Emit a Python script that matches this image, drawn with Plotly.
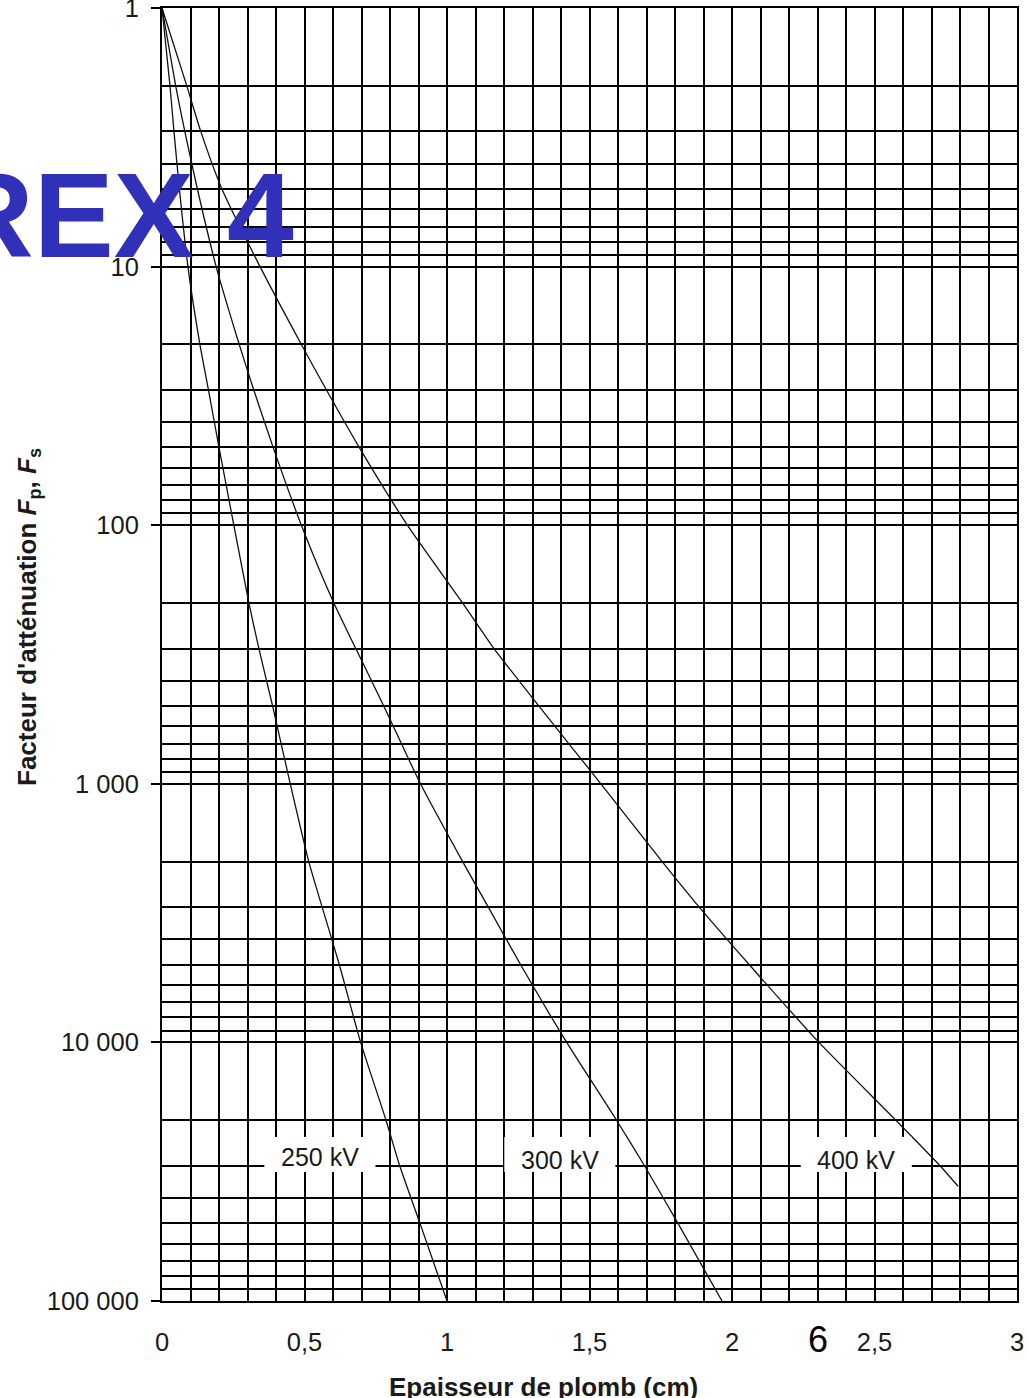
import plotly.graph_objects as go
import math

# ---- data ----
F_250 = [1, 2, 3, 5, 10, 20, 30, 50, 100, 200, 300, 500, 1000, 2000, 3000, 5000, 10000, 20000, 30000, 50000, 100000]
x_250 = [0, 0.028, 0.042, 0.061, 0.091, 0.133, 0.163, 0.200, 0.252, 0.305, 0.340, 0.388, 0.450, 0.515, 0.562, 0.622, 0.697, 0.786, 0.834, 0.905, 1.0]

F_300 = [1, 2, 3, 5, 10, 20, 30, 50, 100, 200, 300, 500, 1000, 2000, 3000, 5000, 10000, 20000, 30000, 50000, 100000]
x_300 = [0, 0.048, 0.080, 0.124, 0.190, 0.271, 0.322, 0.390, 0.489, 0.603, 0.680, 0.778, 0.907, 1.055, 1.145, 1.258, 1.420, 1.595, 1.693, 1.810, 1.965]

F_400 = [1, 2, 3, 5, 10, 20, 30, 50, 100, 200, 300, 500, 1000, 2000, 3000, 5000, 10000, 20000, 30000, 36000]
x_400 = [0, 0.087, 0.136, 0.210, 0.344, 0.489, 0.577, 0.692, 0.861, 1.055, 1.165, 1.322, 1.540, 1.755, 1.885, 2.060, 2.305, 2.575, 2.730, 2.793]

series_names = ["250 kV", "300 kV", "400 kV"]
label_x = [0.554, 1.396, 2.436]
label_F = [27700, 28500, 28500]

x_tickvals = [0, 0.5, 1, 1.5, 2, 2.5, 3]
x_ticktext = ["0", "0,5", "1", "1,5", "2", "2,5", "3"]
y_tickvals = [1, 10, 100, 1000, 10000, 100000]
y_ticktext = ["1", "10", "100", "1 000", "10 000", "100 000"]

x_title = "Epaisseur de plomb (cm)"
y_title = "Facteur d'atténuation <i>F</i><sub>p</sub>, <i>F</i><sub>s</sub>"
watermark = "REX 4"
page_number = "6"

# ---- figure ----
W, H = 1029, 1398
L, R, T, B = 162, 12, 8, 97
pw, ph = W - L - R, H - T - B


def px_to_paper_x(px):
    return (px - L) / pw


def px_to_paper_y(py):
    return 1 - (py - T) / ph


FONT = "Liberation Sans, Arial, sans-serif"

fig = go.Figure()
for xs, Fs, name in [(x_250, F_250, series_names[0]), (x_300, F_300, series_names[1]), (x_400, F_400, series_names[2])]:
    fig.add_trace(go.Scatter(x=xs, y=Fs, mode="lines", name=name,
                             line=dict(color="#111111", width=1.3, shape="spline", smoothing=0.6),
                             showlegend=False, hoverinfo="skip"))

minor_y = [m * 10 ** k for k in range(0, 5) for m in range(2, 10)]

tick_font = dict(family=FONT, size=25.5, color="#1a1a1a")

fig.update_layout(
    width=W, height=H,
    margin=dict(l=L, r=R, t=T, b=B, autoexpand=False),
    paper_bgcolor="white", plot_bgcolor="white",
    showlegend=False,
    xaxis=dict(
        range=[0, 3], tickmode="array", tickvals=x_tickvals, ticktext=x_ticktext,
        showgrid=True, gridcolor="black", gridwidth=2,
        minor=dict(dtick=0.1, tick0=0, showgrid=True, gridcolor="black", gridwidth=2, ticks=""),
        ticks="", ticklabelstandoff=17, tickfont=tick_font, ticklabeloverflow="allow",
        automargin=False,
        showline=True, linecolor="black", linewidth=2, mirror=True, zeroline=False,
    ),
    yaxis=dict(
        type="log", range=[5, 0], tickmode="array", tickvals=y_tickvals, ticktext=y_ticktext,
        showgrid=True, gridcolor="black", gridwidth=2,
        minor=dict(tickmode="array", tickvals=minor_y, showgrid=True, gridcolor="black", gridwidth=2, ticks=""),
        ticks="outside", ticklen=9, tickwidth=2, tickcolor="black",
        ticklabelstandoff=7, tickfont=tick_font, ticklabeloverflow="allow",
        automargin=False,
        showline=True, linecolor="black", linewidth=2, mirror=True, zeroline=False,
    ),
)

# white boxes behind the curve labels
box_half_w = 0.195
box_logs = (4.366, 4.501)
for lx in label_x:
    fig.add_shape(type="rect", xref="x", yref="paper",
                  x0=lx - box_half_w, x1=lx + box_half_w,
                  y0=1 - box_logs[1] / 5, y1=1 - box_logs[0] / 5,
                  fillcolor="white", line=dict(width=0), layer="above")

for name, lx, lf in zip(series_names, label_x, label_F):
    fig.add_annotation(x=lx, y=math.log10(lf), xref="x", yref="y", text=name,
                       showarrow=False, font=dict(family=FONT, size=25, color="#1a1a1a"))

# axis titles
fig.add_annotation(x=px_to_paper_x(28), y=px_to_paper_y(617), xref="paper", yref="paper",
                   text="<b>" + y_title + "</b>", textangle=-90, showarrow=False,
                   font=dict(family=FONT, size=26, color="#1a1a1a"),
                   xanchor="center", yanchor="middle")
fig.add_annotation(x=px_to_paper_x(543), y=px_to_paper_y(1387), xref="paper", yref="paper",
                   text="<b>" + x_title + "</b>", showarrow=False,
                   font=dict(family=FONT, size=26, color="#1a1a1a"),
                   xanchor="center", yanchor="middle")

# page number
fig.add_annotation(x=px_to_paper_x(818), y=px_to_paper_y(1340), xref="paper", yref="paper",
                   text=page_number, showarrow=False,
                   font=dict(family=FONT, size=36, color="black"),
                   xanchor="center", yanchor="middle")

# big blue heading, partly cut off at the left edge
fig.add_annotation(x=px_to_paper_x(296), y=px_to_paper_y(215), xref="paper", yref="paper",
                   text="<b>" + watermark + "</b>", showarrow=False,
                   font=dict(family=FONT, size=120, color="#3030b8"),
                   xanchor="right", yanchor="middle")

fig.write_html("out.html", config={"displayModeBar": False},
               post_script="document.body.style.margin='0';")
